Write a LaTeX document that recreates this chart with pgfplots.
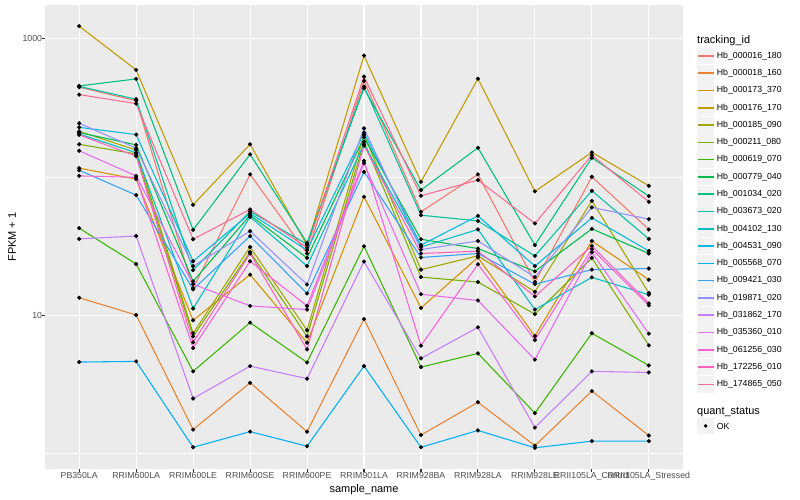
\documentclass[border=0pt]{standalone}
\usepackage{fontspec}
\setmainfont{Liberation Sans}
\usepackage{pgfplots}
\usepackage{pgfplotstable}
\pgfplotsset{compat=1.18}
\definecolor{c1}{HTML}{F8766D}
\definecolor{c2}{HTML}{EA8331}
\definecolor{c3}{HTML}{D89000}
\definecolor{c4}{HTML}{C09B00}
\definecolor{c5}{HTML}{A3A500}
\definecolor{c6}{HTML}{7CAE00}
\definecolor{c7}{HTML}{39B600}
\definecolor{c8}{HTML}{00BB4E}
\definecolor{c9}{HTML}{00BF7D}
\definecolor{c10}{HTML}{00C1A3}
\definecolor{c11}{HTML}{00BFC4}
\definecolor{c12}{HTML}{00BAE0}
\definecolor{c13}{HTML}{00B0F6}
\definecolor{c14}{HTML}{35A2FF}
\definecolor{c15}{HTML}{9590FF}
\definecolor{c16}{HTML}{C77CFF}
\definecolor{c17}{HTML}{E76BF3}
\definecolor{c18}{HTML}{FA62DB}
\definecolor{c19}{HTML}{FF62BC}
\definecolor{c20}{HTML}{FF6C91}
\definecolor{panelbg}{HTML}{EBEBEB}
\definecolor{grey30}{HTML}{4D4D4D}
\definecolor{grey20}{HTML}{333333}
\definecolor{keybg}{HTML}{F2F2F2}

\pgfplotstableread{
x  s1    s2    s3    s4    s5    s6    s7    s8    s9    s10   s11   s12   s13   s14   s15   s16   s17   s18   s19   s20
0  447   13.4  116   1236  214   172.6 42.7  210   456   453   205   229   4.59  112   245   35.7  155   102   202   395
1  357   10.05 96.7  596   157   147   23.5  171   513   366   150   203   4.64  74.1  162   37.5  102   99.5  142   340
2  15.7  1.49  9.20  63.0  7.41  7.04  3.93  17.6  41.5  21.2  11.2  24.6  1.11  15.4  22.7  2.50  16.8  5.79  6.37  35.5
3  104.6 3.25  19.7  172.6 31.2  28.7  8.85  53.0  146   56.4  51.6  54.6  1.44  37.4  40.6  4.29  11.7  24.6  28.0  58.3
4  28.0  1.44  6.34  32.2  7.79  7.04  4.56  26.0  33.4  32.7  22.7  29.6  1.13  14.4  16.7  3.48  11.0  11.7  5.67  30.9
5  496   9.40  72.0  757   202   180   31.6  194   439   451   173   209   4.29  109   225   24.5  126   131   169   533
6  56.1  1.36  11.3  92.4  21.4  18.9  4.22  35.5  80.5  53.0  31.2  32.2  1.11  26.2  29.9  4.88  14.2  6.03  28.0  73.2
7  104.6 2.35  26.2  515   26.9  17.4  5.30  30.4  163   48.2  41.8  52.4  1.47  28.0  34.5  8.18  12.8  23.4  29.1  95.1
8  17.4  1.14  7.08  78.8  14.8  10.2  1.96  20.8  32.2  26.9  11.0  22.7  1.10  16.8  18.9  1.54  4.78  6.62  13.7  46.2
9  100.5 2.83  34.5  151   67.3  26.0  7.41  42.2  138   79.6  18.8  50.7  1.23  21.4  60.3  3.93  28.5  30.1  31.8  144
10 41.8  1.35  18.1  86.5  14.5  6.06  4.34  28.0  72.8  35.7  14.1  29.2  1.23  21.8  49.6  3.86  7.37  11.8  12.2  66.2
}\data

\begin{document}
\begin{tikzpicture}[x=1bp,y=1bp]
\begin{axis}[
  scale only axis, width=638bp, height=464bp,
  at={(0,0)}, anchor=south west,
  xmin=-0.6, xmax=10.6,
  ymode=log, ymin=0.773, ymax=1758,
  enlargelimits=false,
  axis background/.style={fill=panelbg},
  axis line style={draw=none},
  xtick={0,...,10},
  xticklabels={PB350LA,RRIM600LA,RRIM600LE,RRIM600SE,RRIM600PE,RRIM901LA,RRIM928BA,RRIM928LA,RRIM928LE,RRII105LA\_Control,RRII105LA\_Stressed},
  ytick={10,1000}, yticklabels={10,1000},
  minor ytick={1,100},
  grid=both,
  major grid style={white, line width=1.07bp},
  minor grid style={white, line width=0.53bp},
  tick pos=left, tick align=outside,
  major tick length=2.75bp, minor tick length=0bp,
  tick style={grey20, line width=1.07bp},
  /pgf/number format/assume math mode=true,
  xticklabel style={font=\fontsize{8.8}{10}\selectfont, text=grey30, inner sep=0pt, anchor=north},
  yticklabel style={font=\fontsize{8.8}{10}\selectfont, text=grey30, inner sep=0pt, anchor=east},
  xlabel={sample\_name}, ylabel={FPKM + 1},
  xlabel style={font=\fontsize{11}{13}\selectfont, at={(axis description cs:0.5,-0.0453)}, anchor=center},
  ylabel style={font=\fontsize{11}{13}\selectfont, at={(axis description cs:-0.0517,0.5)}, anchor=center},
]
\pgfplotsinvokeforeach{1,...,20}{
  \addplot[color=c#1, line width=1.07bp, mark=none] table[x=x,y=s#1]{\data};
}
\pgfplotsinvokeforeach{1,...,20}{
  \addplot[only marks, mark=*, mark size=1.9bp, black] table[x=x,y=s#1]{\data};
}
\end{axis}
% legend
\node[anchor=west, inner sep=0pt, font=\fontsize{11}{13}\selectfont] at (652,428.3) {tracking\_id};
\foreach \i/\name [count=\k from 0] in {1/Hb\_000016\_180, 2/Hb\_000018\_160, 3/Hb\_000173\_370, 4/Hb\_000176\_170, 5/Hb\_000185\_090, 6/Hb\_000211\_080, 7/Hb\_000619\_070, 8/Hb\_000779\_040, 9/Hb\_001034\_020, 10/Hb\_003673\_020, 11/Hb\_004102\_130, 12/Hb\_004531\_090, 13/Hb\_005568\_070, 14/Hb\_009421\_030, 15/Hb\_019871\_020, 16/Hb\_031862\_170, 17/Hb\_035360\_010, 18/Hb\_061256\_030, 19/Hb\_172256\_010, 20/Hb\_174865\_050} {
  \pgfmathsetmacro\yy{413-17.28*\k}
  \fill[keybg] (652.3,{\yy-8.4}) rectangle (669,{\yy+8.4});
  \fill[fill=c\i] (652.8,{\yy-0.8}) rectangle (668.5,{\yy+0.8});
  \node[anchor=west, inner sep=0pt, font=\fontsize{8.8}{10}\selectfont] at (671.7,\yy) {\name};
}
\node[anchor=west, inner sep=0pt, font=\fontsize{11}{13}\selectfont] at (652,57.3) {quant\_status};
\fill[keybg] (652.3,{43-8.4}) rectangle (669,{43+8.4});
\fill[black] (660.64,43) circle (1.9bp);
\node[anchor=west, inner sep=0pt, font=\fontsize{8.8}{10}\selectfont] at (671.7,43) {OK};
\pgfresetboundingbox
\path[use as bounding box] (-45,-31) rectangle (755,469);
\end{tikzpicture}
\end{document}
